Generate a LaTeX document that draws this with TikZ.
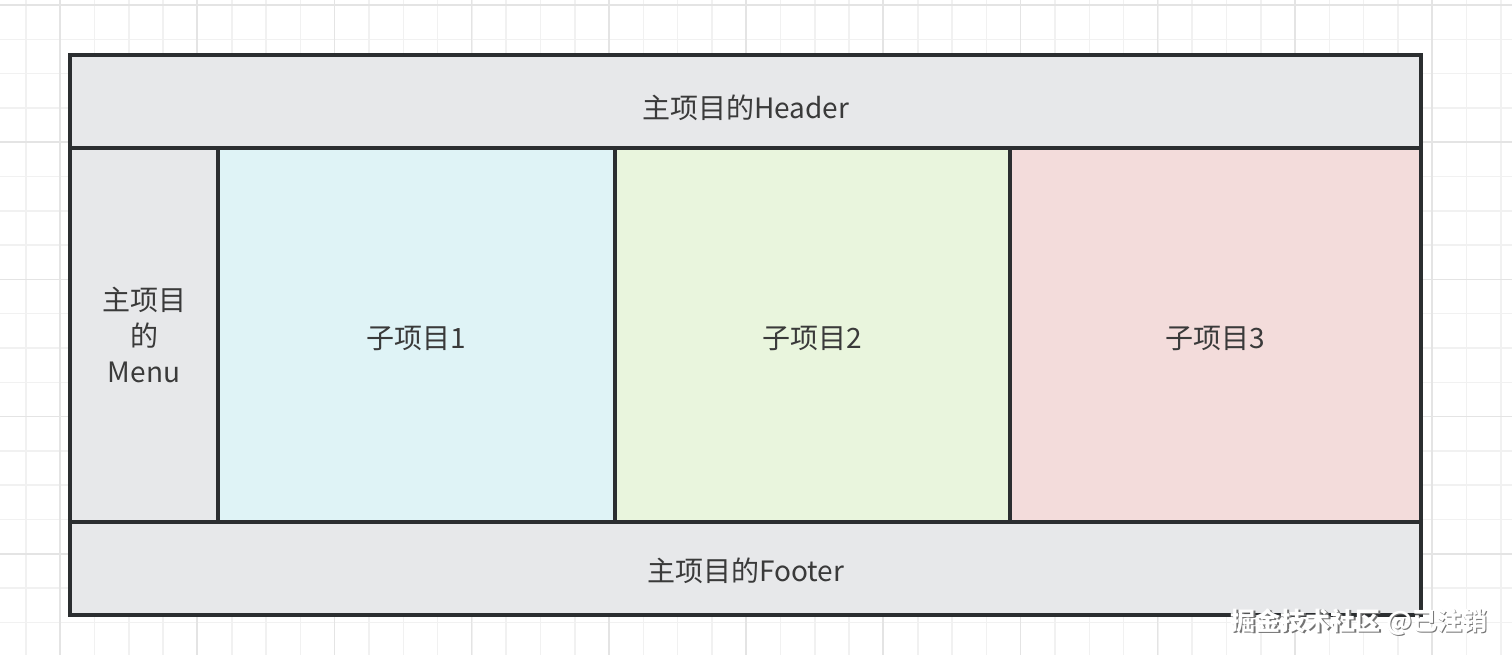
\documentclass[tikz,border=0pt]{standalone}
\usepackage{fontspec}
\setmainfont{Noto Sans CJK SC}
\usetikzlibrary{positioning}
\definecolor{linec}{HTML}{2B2E30}
\definecolor{textc}{HTML}{3A3A3A}
\definecolor{boxgray}{HTML}{E7E8EA}
\definecolor{subblue}{HTML}{DFF3F6}
\definecolor{subgreen}{HTML}{E9F5DD}
\definecolor{subred}{HTML}{F3DCDB}
\definecolor{gridminor}{HTML}{F1F1F1}
\definecolor{gridmajor}{HTML}{E4E4E4}

\begin{document}
\begin{tikzpicture}
          [x=1pt, y=-1pt,
           part/.style={draw=linec, line width=4pt, inner sep=0pt, outer sep=0pt,
                        text=textc, font=\fontsize{28}{36}\selectfont, align=center},
           sub/.style={part, text height=30pt, text depth=3pt,
                       minimum width=#1, minimum height=374pt},
           minor/.style={draw=gridminor, line width=1.5pt},
           major/.style={draw=gridmajor, line width=1.5pt}]
          \useasboundingbox[fill=white] (0,0) rectangle (1512,655);

          % background grid
          \foreach \i in {0,...,43} {
            \draw[minor] ({26+34.3*\i},0) -- ({26+34.3*\i},655);
          }
          \foreach \j in {0,...,19} {
            \draw[minor] (0,{5+34.3*\j}) -- (1512,{5+34.3*\j});
          }
          \foreach \i in {0,...,10} {
            \draw[major] ({60+137.2*\i},0) -- ({60+137.2*\i},655);
          }
          \foreach \j in {0,...,4} {
            \draw[major] (0,{5+137.2*\j}) -- (1512,{5+137.2*\j});
          }

          \node (header) [part, fill=boxgray, anchor=north west, text height=37pt, text depth=3pt,
                          minimum width=1351pt, minimum height=93pt] at (70,55) {主项目的Header};
          \node (menu) [part, fill=boxgray, below right = 0pt and 0pt of header.south west,
                        minimum width=148pt, minimum height=374pt] {主项目\\的\\Menu};
          \node (sub1) [sub=397pt, fill=subblue, right = 0pt of menu] {子项目1};
          \node (sub2) [sub=395pt, fill=subgreen, right = 0pt of sub1] {子项目2};
          \node (sub3) [sub=411pt, fill=subred, right = 0pt of sub2] {子项目3};
          \node (footer) [part, fill=boxgray, below right = 0pt and 0pt of menu.south west,
                          text height=28pt, text depth=3pt,
                          minimum width=1351pt, minimum height=93pt] {主项目的Footer};

          % watermark
          \node (markshadow) [text=black!55, font=\fontsize{25}{25}\selectfont\bfseries]
            at (1360.5,623.5) {掘金技术社区 @已注销};
          \node (mark) [text=white, font=\fontsize{25}{25}\selectfont\bfseries]
            at (1359,622) {掘金技术社区 @已注销};
        \end{tikzpicture}
\end{document}
